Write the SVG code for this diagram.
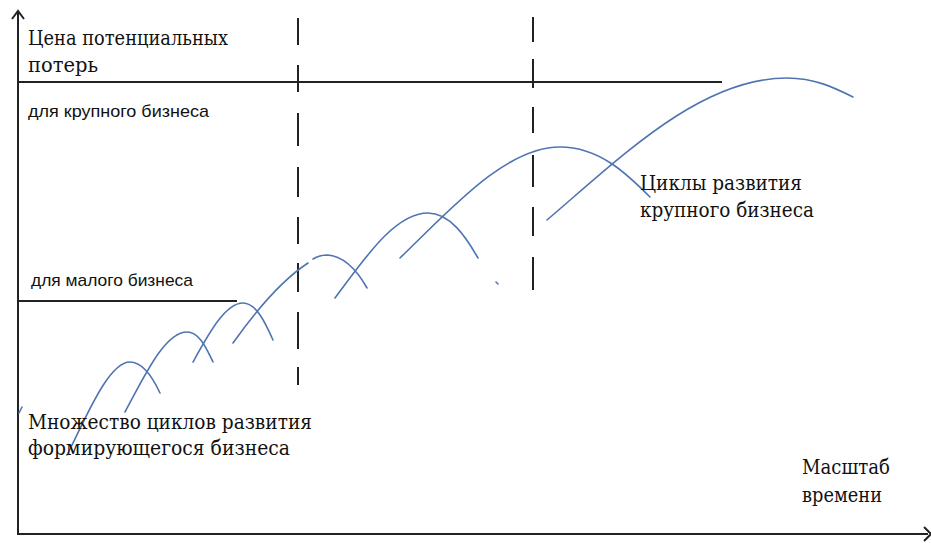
<svg xmlns="http://www.w3.org/2000/svg" width="931" height="543" viewBox="0 0 931 543">
<style>
.ax{stroke:#222;stroke-width:2;fill:none}
.dash{stroke:#222;stroke-width:2;fill:none}
.cur{stroke:#4f74b0;stroke-width:1.6;fill:none;stroke-linecap:round}
.ser{font-family:'DejaVu Serif','Liberation Serif',serif;font-size:20px;fill:#111}
.san{font-family:'Liberation Sans',Arial,sans-serif;font-size:17px;fill:#111}
</style>
<rect width="931" height="543" fill="#fff"/>
<g id="axes">
<line class="ax" x1="18" y1="11" x2="18" y2="535"/>
<polyline class="ax" points="12,19 18,11 24,19"/>
<line class="ax" x1="17" y1="534" x2="928" y2="534"/>
<polyline class="ax" points="924,527 931,534 924,541"/>
</g>
<g id="levels">
<line class="ax" x1="18" y1="82" x2="722" y2="82"/>
<line class="ax" x1="18" y1="301" x2="237" y2="301"/>
</g>
<g id="dividers">
<path class="dash" d="M298,18V45M298,65V92M298,113V146M298,167V197M298,217V244M298,263V292M298,312V349M298,367V385"/>
<path class="dash" d="M533,17V42M533,59V88M533,107V133M533,155V187M533,207V236M533,257V290"/>
</g>
<g id="connectors">
<path class="cur" d="M67,455 C85,420 108,362 130,362 C143,362 153,378 160,393"/>
<path class="cur" d="M125,412 C145,375 165,332 187,332 C200,332 207,350 213,362"/>
<path class="cur" d="M193,362 C208,335 225,303 243,303 C256,303 265,322 273,340"/>
<path class="cur" d="M233,343 C255,312 282,280 308,263"/>
<path class="cur" d="M313,259 C318,256 322,255 327,255 C345,256 358,272 367,288"/>
<path class="cur" d="M335,298 C363,261 394,213 428,213 C450,213 466,237 478,258"/>
<path class="cur" d="M400,258 C450,210 505,147 560,147 C600,147 628,175 650,197"/>
<path class="cur" d="M547,220 C620,158 700,78 787,78 C815,78 835,88 853,97"/>
<path class="cur" d="M22,407 L19,413"/>
<path class="cur" d="M496,282 L498,284"/>
</g>
<g id="label-price">
<text class="ser" x="28" y="45" textLength="200" lengthAdjust="spacingAndGlyphs">Цена потенциальных</text>
<text class="ser" x="28" y="72" textLength="70" lengthAdjust="spacingAndGlyphs">потерь</text>
</g>
<g id="label-large">
<text class="san" x="28" y="117" textLength="181" lengthAdjust="spacingAndGlyphs">для крупного бизнеса</text>
</g>
<g id="label-small">
<text class="san" x="31" y="286" textLength="162" lengthAdjust="spacingAndGlyphs">для малого бизнеса</text>
</g>
<g id="label-many">
<text class="ser" x="28" y="429" textLength="284" lengthAdjust="spacingAndGlyphs">Множество циклов развития</text>
<text class="ser" x="28" y="455" textLength="262" lengthAdjust="spacingAndGlyphs">формирующегося бизнеса</text>
</g>
<g id="label-cycles">
<text class="ser" x="640" y="190" textLength="162" lengthAdjust="spacingAndGlyphs">Циклы развития</text>
<text class="ser" x="640" y="217" textLength="174" lengthAdjust="spacingAndGlyphs">крупного бизнеса</text>
</g>
<g id="label-time">
<text class="ser" x="802" y="474" textLength="88" lengthAdjust="spacingAndGlyphs">Масштаб</text>
<text class="ser" x="802" y="502" textLength="80" lengthAdjust="spacingAndGlyphs">времени</text>
</g>
</svg>
